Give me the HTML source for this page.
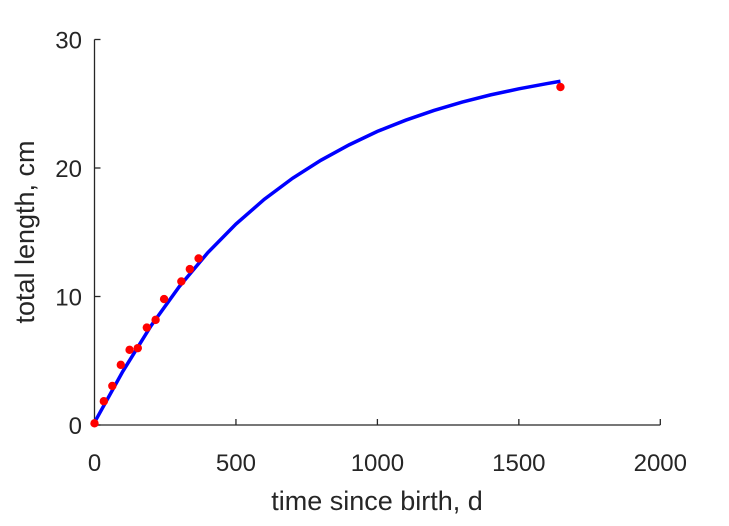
<!DOCTYPE html>
<html><head><meta charset="utf-8"><style>
html,body{margin:0;padding:0;background:#fff;}
svg text{font-family:"Liberation Sans",Arial,sans-serif;fill:#262626;}
</style></head><body>
<svg id="chart" width="729" height="521" viewBox="0 0 729 521" xmlns="http://www.w3.org/2000/svg">
<g id="axes"></g>
<g id="marks"></g>
<text x="377" y="510" font-size="27" text-anchor="middle">time since birth, d</text>
<text transform="translate(34,232) rotate(-90)" font-size="27" text-anchor="middle">total length, cm</text>
</svg>
<script>
const obsT = [0, 33, 63, 93, 124, 153, 185, 216, 246, 307, 337, 368, 1647];
const obsL = [0.13, 1.85, 3.04, 4.68, 5.85, 5.98, 7.58, 8.18, 9.8, 11.17, 12.13, 12.96, 26.3];
const fitT = [0, 100, 200, 300, 400, 500, 600, 700, 800, 900, 1000, 1100, 1200, 1300, 1400, 1500, 1600, 1647];
const fitL = [0.2, 4.17, 7.73, 10.78, 13.4, 15.64, 17.56, 19.2, 20.6, 21.8, 22.85, 23.72, 24.48, 25.13, 25.69, 26.16, 26.57, 26.75];
const xTicks = [0, 500, 1000, 1500, 2000];
const yTicks = [0, 10, 20, 30];

const X0 = 94.5, X1 = 660.3, Y0 = 425, Y1 = 39.5;
const xs = v => X0 + (v - 0) / 2000 * (X1 - X0);
const ys = v => Y0 - (v - 0) / 30 * (Y0 - Y1);
const NS = 'http://www.w3.org/2000/svg';
const axes = document.getElementById('axes');
const marks = document.getElementById('marks');
function mk(tag, attrs, parent) {
  const e = document.createElementNS(NS, tag);
  for (const k in attrs) e.setAttribute(k, attrs[k]);
  parent.appendChild(e);
  return e;
}
let ax = mk('path', {d: `M${X0},${Y1} V${Y0} H${X1}`, fill: 'none', stroke: '#262626', 'stroke-width': 1.3}, axes);


xTicks.forEach(v => {
  const x = xs(v);
  let t = mk('line', {x1: x, x2: x, y1: Y0, y2: Y0 - 6, stroke: '#262626', 'stroke-width': 1.3}, axes);
  
  
  let l = mk('text', {x: x, y: 471, 'font-size': 24, 'text-anchor': 'middle'}, axes);
  l.textContent = v;
  
  
});
yTicks.forEach(v => {
  const y = ys(v);
  let t = mk('line', {x1: X0, x2: X0 + 6, y1: y, y2: y, stroke: '#262626', 'stroke-width': 1.3}, axes);
  
  
  let l = mk('text', {x: 82, y: y + 9, 'font-size': 24, 'text-anchor': 'end'}, axes);
  l.textContent = v;
  
  
});
let d = fitT.map((t, i) => (i ? 'L' : 'M') + xs(t).toFixed(2) + ',' + ys(fitL[i]).toFixed(2)).join(' ');
let line = mk('path', {d: d, fill: 'none', stroke: '#0000ff', 'stroke-width': 3.5}, marks);


obsT.forEach((t, i) => {
  let c = mk('circle', {cx: xs(t), cy: ys(obsL[i]), r: 4.2, fill: '#ff0000'}, marks);
  
  
});
</script>
</body></html>
